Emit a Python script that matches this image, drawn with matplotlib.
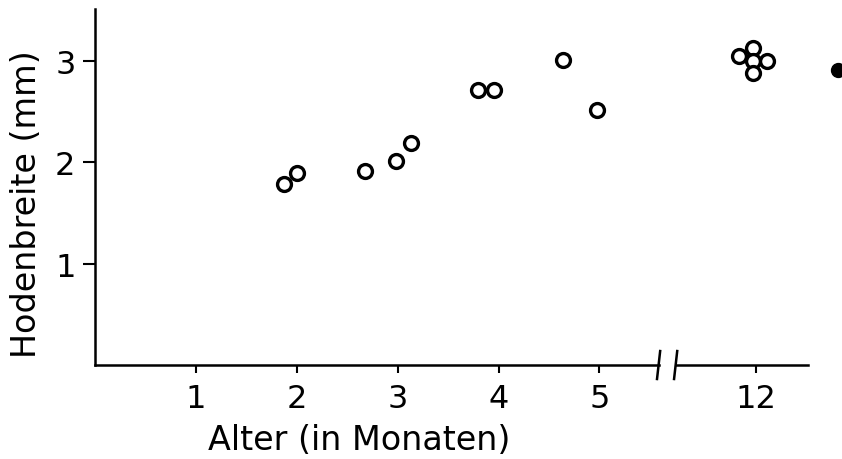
import numpy as np
import matplotlib
matplotlib.use('Agg')
import matplotlib.pyplot as plt

# data (age in months, testis width in mm)
alter = [1.87, 2.0, 2.68, 2.98, 3.13, 3.80, 3.95, 4.64, 4.98,
         11.83, 11.97, 11.97, 12.11, 11.97]
breite = [1.79, 1.89, 1.91, 2.01, 2.19, 2.71, 2.71, 3.01, 2.52,
          3.05, 3.13, 3.00, 3.00, 2.88]
# filled point at the right edge (cut off in the original)
alter_voll = [12.81]
breite_voll = [2.91]

x_ticks = [1, 2, 3, 4, 5, 12]
y_ticks = [1, 2, 3]

# broken x axis: 12 months drawn at 6.55
def xpos(v):
    v = np.asarray(v, dtype=float)
    return np.where(v <= 5.5, v, v - 12 + 6.55)


def main():
    plt.rcParams['font.family'] = 'DejaVu Sans'
    fig = plt.figure(figsize=(8.42, 4.6), dpi=100)
    ax = fig.add_axes([0.1128, 0.2043, 0.96 - 0.1128, 0.978 - 0.2043])

    ax.plot(xpos(alter), breite, 'o', mfc='white', mec='black', mew=2.4,
            ms=10, linestyle='None', zorder=3)
    ax.plot(xpos(alter_voll), breite_voll, 'o', color='black', ms=10,
            clip_on=False, zorder=3)

    ax.set_xlim(0, 7.07)
    ax.set_ylim(0, 3.51)

    ax.spines['top'].set_visible(False)
    ax.spines['right'].set_visible(False)
    ax.spines['bottom'].set_visible(False)
    ax.spines['left'].set_linewidth(1.8)

    # bottom axis line with break
    b1, b2 = 5.586, 5.755
    ax.plot([0, b1], [0, 0], color='black', lw=1.8, clip_on=False)
    ax.plot([b2, 7.07], [0, 0], color='black', lw=1.8, clip_on=False)
    for b in (b1, b2):
        ax.plot([b - 0.017, b + 0.017], [-0.15, 0.15], color='black',
                lw=1.8, clip_on=False, solid_capstyle='butt')

    ax.set_xticks(xpos(x_ticks))
    ax.set_xticklabels([str(t) for t in x_ticks])
    ax.set_yticks(y_ticks)
    ax.tick_params(axis='both', direction='out', width=1.5, labelsize=23,
                   colors='black')
    ax.tick_params(axis='x', length=6, pad=7)
    ax.tick_params(axis='y', length=9, pad=5)

    ax.set_xlabel('Alter (in Monaten)', fontsize=24)
    ax.xaxis.set_label_coords(0.371, -0.162)
    ax.set_ylabel('Hodenbreite (mm)', fontsize=24)
    ax.yaxis.set_label_coords(-0.073, 0.455)

    fig.savefig('out.png', dpi=100)


main()
